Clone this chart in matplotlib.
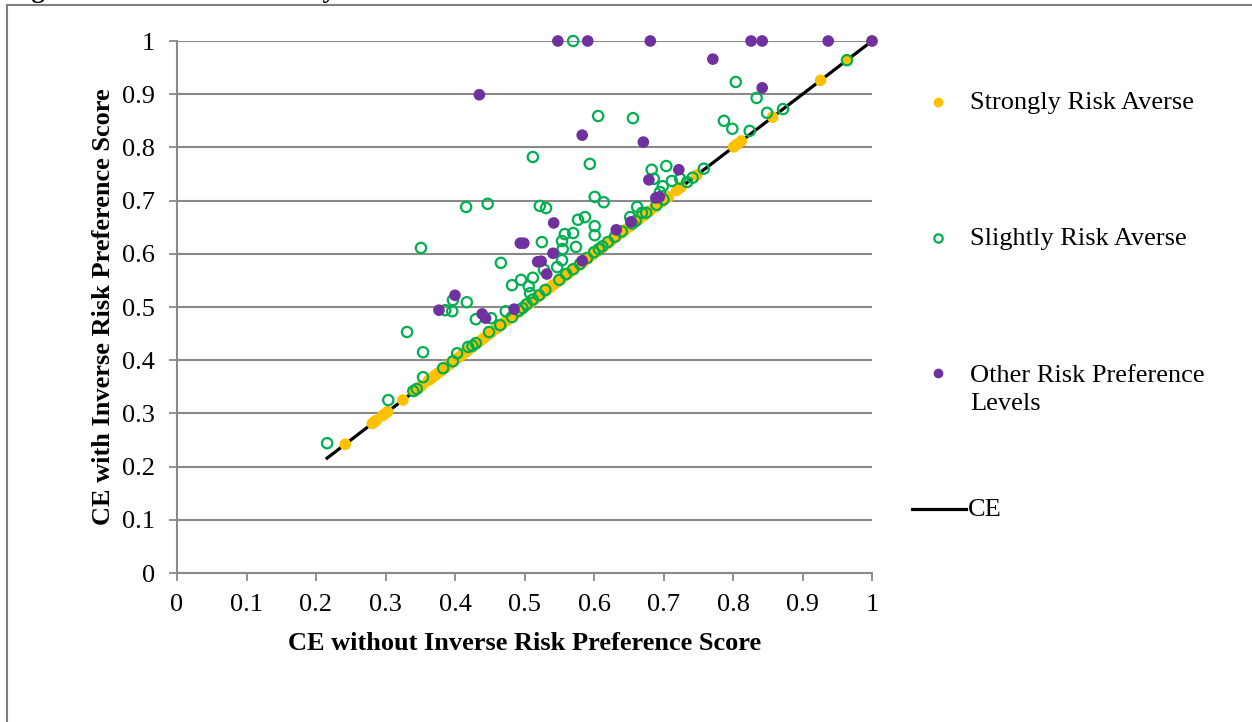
import matplotlib
matplotlib.use("Agg")
import matplotlib.pyplot as plt
from matplotlib.lines import Line2D

plt.rcParams['font.family'] = ['Liberation Serif', 'DejaVu Serif']

# CE without (x) and with (y) inverse risk preference score
strong_x = [0.242, 0.281, 0.284, 0.287, 0.296, 0.300, 0.303, 0.325, 0.342, 0.348,
            0.352, 0.362, 0.366, 0.371, 0.376, 0.381, 0.386, 0.392, 0.398, 0.404,
            0.409, 0.414, 0.418, 0.424, 0.430, 0.436, 0.441, 0.447, 0.452, 0.458,
            0.463, 0.468, 0.474, 0.479, 0.485, 0.490, 0.496, 0.502, 0.507, 0.512,
            0.518, 0.524, 0.530, 0.536, 0.542, 0.548, 0.553, 0.559, 0.565, 0.571,
            0.578, 0.585, 0.592, 0.598, 0.605, 0.612, 0.618, 0.625, 0.632, 0.638,
            0.645, 0.652, 0.658, 0.665, 0.672, 0.680, 0.688, 0.697, 0.707, 0.719,
            0.725, 0.748, 0.801, 0.806, 0.812, 0.857, 0.926, 0.964, 1.000]
strong_y = [0.242, 0.281, 0.284, 0.287, 0.296, 0.300, 0.303, 0.325, 0.342, 0.348,
            0.352, 0.362, 0.366, 0.371, 0.376, 0.381, 0.386, 0.392, 0.398, 0.404,
            0.409, 0.414, 0.418, 0.424, 0.430, 0.436, 0.441, 0.447, 0.452, 0.458,
            0.463, 0.468, 0.474, 0.479, 0.485, 0.490, 0.496, 0.502, 0.507, 0.512,
            0.518, 0.524, 0.530, 0.536, 0.542, 0.548, 0.553, 0.559, 0.565, 0.571,
            0.578, 0.585, 0.592, 0.598, 0.605, 0.612, 0.618, 0.625, 0.632, 0.638,
            0.645, 0.652, 0.658, 0.665, 0.672, 0.680, 0.688, 0.697, 0.707, 0.719,
            0.725, 0.748, 0.801, 0.806, 0.812, 0.857, 0.926, 0.964, 1.000]

slight_x = [0.570, 0.606, 0.656, 0.512, 0.594, 0.601, 0.614, 0.416, 0.447, 0.522,
            0.531, 0.577, 0.587, 0.601, 0.601, 0.558, 0.570, 0.525, 0.554, 0.555,
            0.574, 0.554, 0.547, 0.528, 0.351, 0.466, 0.495, 0.512, 0.482, 0.506,
            0.508, 0.397, 0.417, 0.386, 0.396, 0.430, 0.452, 0.473, 0.331, 0.354,
            0.403, 0.216, 0.304, 0.354, 0.804, 0.834, 0.849, 0.787, 0.799, 0.824,
            0.683, 0.704, 0.686, 0.712, 0.724, 0.699, 0.695, 0.662, 0.652, 0.669,
            0.340, 0.345, 0.383, 0.397, 0.419, 0.425, 0.430, 0.449, 0.465, 0.482,
            0.492, 0.497, 0.503, 0.512, 0.521, 0.530, 0.550, 0.560, 0.570, 0.580,
            0.590, 0.600, 0.607, 0.612, 0.620, 0.630, 0.640, 0.655, 0.660, 0.675,
            0.690, 0.700, 0.734, 0.742, 0.758, 0.872, 0.964]
slight_y = [1.000, 0.859, 0.855, 0.782, 0.769, 0.707, 0.697, 0.688, 0.694, 0.690,
            0.686, 0.664, 0.669, 0.652, 0.635, 0.637, 0.639, 0.622, 0.624, 0.609,
            0.613, 0.588, 0.575, 0.570, 0.611, 0.583, 0.551, 0.555, 0.541, 0.539,
            0.526, 0.513, 0.509, 0.494, 0.492, 0.477, 0.479, 0.492, 0.453, 0.415,
            0.413, 0.244, 0.325, 0.368, 0.923, 0.893, 0.865, 0.850, 0.835, 0.831,
            0.758, 0.765, 0.741, 0.737, 0.741, 0.727, 0.716, 0.688, 0.669, 0.677,
            0.342, 0.346, 0.385, 0.398, 0.425, 0.427, 0.432, 0.453, 0.466, 0.481,
            0.493, 0.498, 0.505, 0.514, 0.522, 0.532, 0.551, 0.562, 0.571, 0.581,
            0.592, 0.603, 0.609, 0.614, 0.622, 0.632, 0.642, 0.657, 0.662, 0.677,
            0.692, 0.702, 0.735, 0.743, 0.760, 0.872, 0.964]

other_x = [0.548, 0.591, 0.681, 0.826, 0.842, 0.937, 1.000, 0.435, 0.771, 0.583,
           0.842, 0.671, 0.722, 0.679, 0.689, 0.694, 0.542, 0.494, 0.499, 0.519,
           0.524, 0.532, 0.541, 0.583, 0.400, 0.377, 0.439, 0.444, 0.485, 0.632,
           0.653]
other_y = [1.000, 1.000, 1.000, 1.000, 1.000, 1.000, 1.000, 0.899, 0.966, 0.823,
           0.912, 0.810, 0.758, 0.739, 0.705, 0.707, 0.658, 0.620, 0.620, 0.585,
           0.586, 0.562, 0.601, 0.587, 0.522, 0.494, 0.487, 0.479, 0.496, 0.645,
           0.660]

ce_x = [0.216, 1.0]
ce_y = [0.216, 1.0]

tick_labels = ['0', '0.1', '0.2', '0.3', '0.4', '0.5', '0.6', '0.7', '0.8', '0.9', '1']

yellow = '#FFC000'
green = '#00B050'
purple = '#7030A0'
grey = '#898989'
fs = 19

fig = plt.figure(figsize=(12.52, 7.22), dpi=100)
ax = fig.add_axes([177 / 1252, 1 - 573 / 722, 695 / 1252, 532 / 722])

ax.plot(ce_x, ce_y, color='black', lw=2.3, zorder=2)
ax.scatter(strong_x, strong_y, s=70, color=yellow, edgecolors='none', zorder=3, clip_on=False)
ax.scatter(slight_x, slight_y, s=55, facecolors='none', edgecolors=green, linewidths=1.6,
           zorder=4, clip_on=False)
ax.scatter(other_x, other_y, s=70, color=purple, edgecolors='none', zorder=5, clip_on=False)

ax.set_xlim(0, 1)
ax.set_ylim(0, 1)
ax.set_xticks([i / 10 for i in range(11)])
ax.set_yticks([i / 10 for i in range(11)])
ax.set_xticklabels(tick_labels)
ax.set_yticklabels(tick_labels)
ax.tick_params(axis='both', direction='out', length=6, width=1.3, color=grey,
               labelsize=fs)
ax.tick_params(axis='x', pad=9)
ax.tick_params(axis='y', pad=10)
ax.yaxis.grid(True, color=grey, lw=1.5, zorder=0)
ax.set_axisbelow(True)
for side in ['top', 'right']:
    ax.spines[side].set_visible(False)
for side in ['left', 'bottom']:
    ax.spines[side].set_color(grey)
    ax.spines[side].set_linewidth(1.5)

ax.set_xlabel('CE without Inverse Risk Preference Score', fontsize=fs,
              fontweight='bold', labelpad=12)
ax.set_ylabel('CE with Inverse Risk Preference Score', fontsize=fs,
              fontweight='bold', labelpad=5)


def px(x, y):
    return x / 1252, 1 - y / 722


# legend drawn by hand to keep the wide Excel spacing
legend_rows = [('Strongly Risk Averse', yellow, 'fill', 102, 103),
               ('Slightly Risk Averse', green, 'open', 238, 239),
               ('Other Risk Preference\nLevels', purple, 'fill', 373, 390)]
for label, col, kind, ypix, ytext in legend_rows:
    mx, my = px(938, ypix)
    if kind == 'fill':
        fig.add_artist(Line2D([mx], [my], marker='o', ms=7, color=col, mec='none', ls='none'))
    else:
        fig.add_artist(Line2D([mx], [my], marker='o', ms=6, mfc='none', mec=col, mew=1.6,
                              ls='none'))
    tx, ty = px(970, ytext)
    fig.text(tx, ty, label, fontsize=fs, va='center', ha='left', linespacing=1.32)

lx0, ly = px(912, 509)
lx1, _ = px(966, 509)
fig.add_artist(Line2D([lx0, lx1], [ly, ly], color='black', lw=2.3))
fig.text(px(968, 510)[0], px(968, 510)[1], 'CE', fontsize=fs, va='center', ha='left')

# frame of the figure and the cut-off caption above it
fig.add_artist(Line2D([7 / 1252, 7 / 1252], [1 - 5 / 722, 0], color='#7f7f7f', lw=1.5))
fig.add_artist(Line2D([7 / 1252, 1], [1 - 5 / 722, 1 - 5 / 722], color='#7f7f7f', lw=1.5))
fig.text(8 / 1252, 1 + 2 / 722, 'Figure 4: CE Risk Sensitivity Results', fontsize=fs,
         fontweight='bold', va='baseline', ha='left')

fig.savefig('out.png', dpi=100)
